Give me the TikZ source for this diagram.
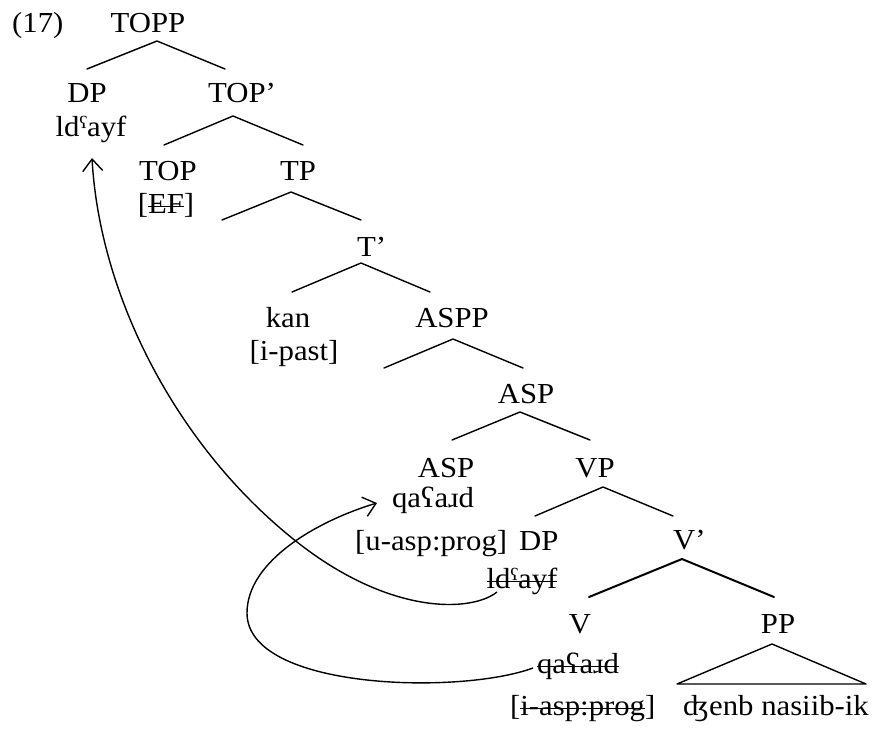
\documentclass[tikz,border=0pt]{standalone}
\usepackage{fontspec}
\setmainfont{Liberation Serif}
\usetikzlibrary{arrows.meta}
% struck-through text: a rule laid across the box of the word
\newcommand{\strk}[1]{\setbox0\hbox{#1}\rlap{\rule[0.19em]{\wd0}{1.5pt}}\box0}
% slightly widened lettering
\newcommand{\hs}[1]{\scalebox{1.06}[1]{#1}}
\begin{document}
\begin{tikzpicture}[x=1pt,y=-1pt,
  lbl/.style={anchor=base,inner sep=0pt,font=\fontsize{29}{34}\selectfont},
  lblw/.style={lbl,anchor=base west},
  branch/.style={line width=1.4pt,line cap=round,line join=round},
  heavy/.style={line width=2pt,line cap=round,line join=round},
  move/.style={line width=1.4pt,-{Straight Barb[length=12pt,width=20pt,line width=1.4pt]}}]
\useasboundingbox (0,0) rectangle (890,730);

% labels
\node[lblw] (ex)   at (12,33)  {\hs{(17)}};
\node[lbl]  (topp) at (148,33) {\hs{TOPP}};
\node[lbl]  (dp1)  at (87,103) {\hs{DP}};
\node[lbl]  (ld1)  at (91,137) {\hs{ldˤayf}};
\node[lblw] (topb) at (208,103) {\hs{TOP’}};
\node[lbl]  (top)  at (168,180) {\hs{TOP}};
\node[lbl]  (ef)   at (166,213) {\hs{[\strk{EF}]}};
\node[lbl]  (tp)   at (298,180) {\hs{TP}};
\node[lblw] (tb)   at (357,256) {\hs{T’}};
\node[lbl]  (kan)  at (288,327) {\hs{kan}};
\node[lbl]  (past) at (294,360) {\hs{[i-past]}};
\node[lbl]  (aspp) at (452,327) {\hs{ASPP}};
\node[lbl]  (aspb) at (526,403) {\hs{ASP}};
\node[lbl]  (asp)  at (446,477) {\hs{ASP}};
\node[lbl]  (vp)   at (595,477) {\hs{VP}};
\node[lbl]  (qa1)  at (433,507) {\hs{qaʕaɹd}};
\node[lblw] (uasp) at (355,550) {\hs{[u-asp:prog]}};
\node[lblw] (dp2)  at (519,550) {\hs{DP}};
\node[lblw] (vb)   at (673,549) {\hs{V’}};
\node[lbl]  (ld2)  at (522,588) {\hs{\strk{ldˤayf}}};
\node[lbl]  (v)    at (580,633) {\hs{V}};
\node[lbl]  (pp)   at (778,633) {\hs{PP}};
\node[lbl]  (qa2)  at (578,673) {\hs{\strk{qaʕaɹd}}};
\node[lblw] (iasp) at (510,715) {\hs{[\strk{i-asp:prog}]}};
\node[lblw] (obj)  at (683,715) {\hs{ʤenb nasiib-ik}};

% branching points
\coordinate (a1) at (157,41);  \coordinate (l1) at (87,69);   \coordinate (r1) at (225,69);
\coordinate (a2) at (233,116); \coordinate (l2) at (164,145); \coordinate (r2) at (303,145);
\coordinate (a3) at (291,192); \coordinate (l3) at (222,220); \coordinate (r3) at (361,220);
\coordinate (a4) at (361,263); \coordinate (l4) at (292,292); \coordinate (r4) at (430,292);
\coordinate (a5) at (453,339); \coordinate (l5) at (384,368); \coordinate (r5) at (523,368);
\coordinate (a6) at (520,412); \coordinate (l6) at (452,440); \coordinate (r6) at (590,440);
\coordinate (a7) at (603,487); \coordinate (l7) at (535,516); \coordinate (r7) at (673,516);
\coordinate (a8) at (682,559); \coordinate (l8) at (589,597); \coordinate (r8) at (774,597);
\coordinate (a9) at (772,644); \coordinate (l9) at (677,684); \coordinate (r9) at (866,684);

\foreach \i in {1,...,7}{\draw[branch] (l\i) -- (a\i) -- (r\i);}
\draw[heavy] (l8) -- (a8) -- (r8);
\draw[branch] (l9) -- (a9) -- (r9) -- cycle;

% movement arrows
\coordinate (s1) at (497,592);
\coordinate (t1) at (92,158);
\draw[move] (s1) .. controls (472,612) and (391,616) .. (297,542)
                 .. controls (180,450) and (100,300) .. (t1);
\coordinate (s2) at (533,668);
\coordinate (t2) at (377,503);
\draw[move] (s2) .. controls (460,695) and (247,690) .. (247,613)
                 .. controls (247,560) and (320,520) .. (t2);
\end{tikzpicture}
\end{document}
